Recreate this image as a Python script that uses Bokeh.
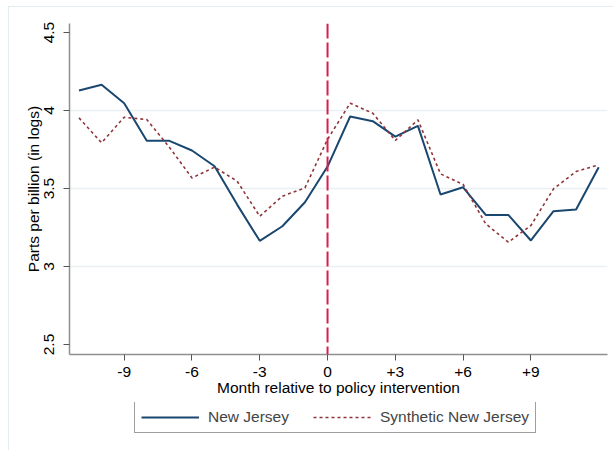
from bokeh.plotting import figure
from bokeh.layouts import column
from bokeh.models import (ColumnDataSource, Legend, LegendItem, Span,
                          FixedTicker, InlineStyleSheet)
from bokeh.embed import file_html
from bokeh.resources import INLINE

# Months relative to the policy intervention
months = list(range(-11, 13))

# Log parts per billion, observed New Jersey
new_jersey = [4.128, 4.165, 4.047, 3.806, 3.806, 3.744, 3.643, 3.397, 3.165,
              3.258, 3.412, 3.641, 3.962, 3.932, 3.833, 3.902, 3.462, 3.508,
              3.331, 3.331, 3.167, 3.355, 3.365, 3.637]

# Log parts per billion, synthetic control
synthetic_nj = [3.953, 3.793, 3.957, 3.942, 3.765, 3.568, 3.637, 3.547, 3.322,
                3.451, 3.504, 3.815, 4.047, 3.983, 3.808, 3.940, 3.594, 3.526,
                3.274, 3.156, 3.263, 3.498, 3.609, 3.652]

x_ticks = [-9, -6, -3, 0, 3, 6, 9]
x_tick_labels = ["-9", "-6", "-3", "0", "+3", "+6", "+9"]
y_ticks = [2.5, 3, 3.5, 4, 4.5]
y_tick_labels = ["2.5", "3", "3.5", "4", "4.5"]
grid_levels = [3, 3.5, 4]
series_names = ["New Jersey", "Synthetic New Jersey"]

FONT = "Liberation Sans"
FS = "15.5px"
NJ_STYLE = dict(line_color="#1a476f", line_width=2)
SYN_STYLE = dict(line_color="#90353b", line_width=1.6, line_dash="3 3")

src = ColumnDataSource(dict(month=months, nj=new_jersey, synth=synthetic_nj))

p = figure(width=613, height=402, output_backend="svg", toolbar_location=None,
           x_range=(-11.42, 12.39), y_range=(2.436, 4.558),
           min_border_left=69, min_border_right=6, min_border_top=23,
           min_border_bottom=48)
p.outline_line_color = None
p.xgrid.visible = False
p.ygrid.visible = False

for lvl in grid_levels:
    p.add_layout(Span(location=lvl, dimension="width", line_color="#e9f0f1",
                      line_width=1.5, level="underlay"))

for ax in (p.xaxis[0], p.yaxis[0]):
    ax.axis_line_color = "#8f8f8f"
    ax.axis_line_width = 1.5
    ax.major_tick_line_color = "#555555"
    ax.major_tick_line_width = 1
    ax.major_tick_out = 6
    ax.major_tick_in = 0
    ax.minor_tick_line_color = None
    ax.major_label_text_font = FONT
    ax.major_label_text_font_size = FS
    ax.major_label_text_color = "#000000"
    ax.axis_label_text_font = FONT
    ax.axis_label_text_font_size = FS
    ax.axis_label_text_font_style = "normal"
    ax.axis_label_text_color = "#000000"

p.xaxis.ticker = FixedTicker(ticks=x_ticks)
p.xaxis.major_label_overrides = dict(zip(x_ticks, x_tick_labels))
p.xaxis.axis_label = "Month relative to policy intervention"
p.xaxis.major_label_standoff = 6
p.xaxis.axis_label_standoff = -1

p.yaxis.ticker = FixedTicker(ticks=y_ticks)
p.yaxis.major_label_overrides = dict(zip(y_ticks, y_tick_labels))
p.yaxis.major_label_orientation = "vertical"
p.yaxis.axis_label = "Parts per billion (in logs)"
p.yaxis.major_label_standoff = 9
p.yaxis.axis_label_standoff = 0

# Policy intervention marker
p.add_layout(Span(location=0, dimension="height", line_color="#d81e4f",
                  line_width=2, line_dash="15 4"))

p.line("month", "nj", source=src, **NJ_STYLE)
p.line("month", "synth", source=src, **SYN_STYLE)

# Legend strip underneath the plot; its series sit outside this strip's ranges,
# so only the legend keys show
lg = figure(width=613, height=48, output_backend="svg", toolbar_location=None,
            x_range=(0, 1), y_range=(0, 1), min_border=0,
            x_axis_location=None, y_axis_location=None)
lg.grid.visible = False
lg.outline_line_color = None
k_nj = lg.line("month", "nj", source=src, **NJ_STYLE)
k_syn = lg.line("month", "synth", source=src, **SYN_STYLE)

legend = Legend(items=[LegendItem(label=series_names[0], renderers=[k_nj]),
                       LegendItem(label=series_names[1], renderers=[k_syn])],
                orientation="horizontal", location=(65, 17),
                border_line_color="#404040", border_line_width=1.2,
                padding=6, spacing=24, margin=0, glyph_width=58,
                glyph_height=18, label_height=18, label_standoff=9,
                label_text_font=FONT, label_text_font_size=FS,
                background_fill_color="white")
lg.add_layout(legend, "center")

# faint graph-region border around the chart area
region_css = InlineStyleSheet(css="""
:host::after {
  content: ""; position: absolute; left: 8px; top: 6px;
  width: 700px; height: 600px;
  border: 1.5px solid #e3ecef; pointer-events: none;
}
""")

layout = column(p, lg, spacing=0, stylesheets=[region_css])

open("out.html", "w").write(file_html(layout, INLINE))
